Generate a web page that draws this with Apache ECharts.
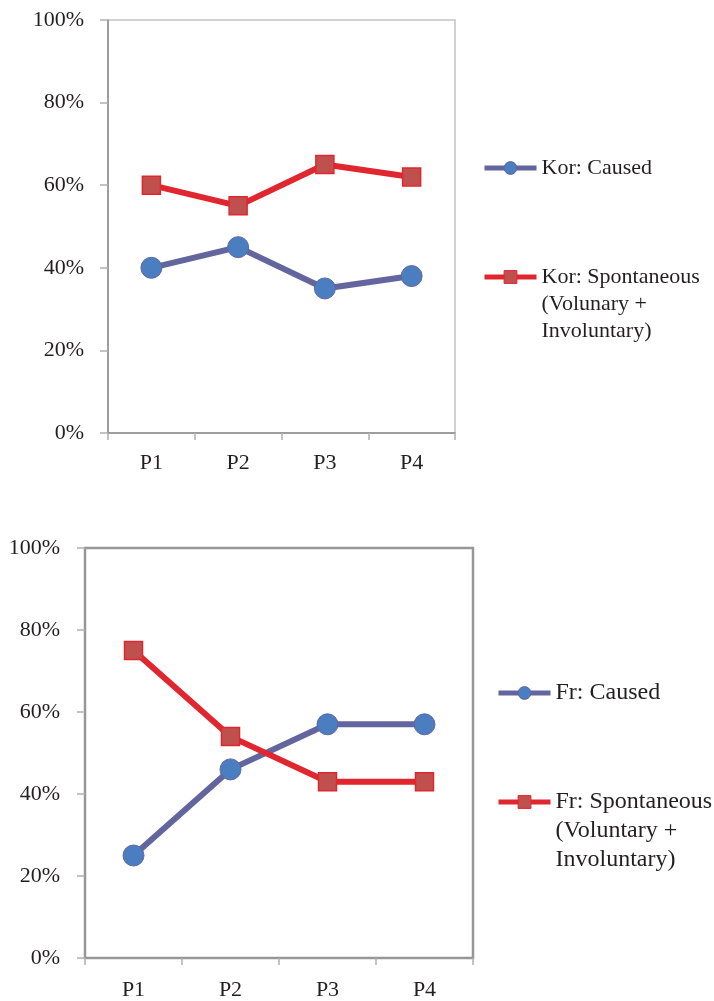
<!DOCTYPE html>
<html>
<head>
<meta charset="utf-8">
<script src="https://cdn.jsdelivr.net/npm/echarts@6/dist/echarts.min.js"></script>
<style>
  html, body { margin: 0; padding: 0; background: #fff; }
  #chart { width: 714px; height: 1001px; }
</style>
</head>
<body>
<div id="chart"></div>
<script>
// Periods on the x axis
const periods = ['P1', 'P2', 'P3', 'P4'];
// Y axis tick values (percent)
const yTicks = [0, 20, 40, 60, 80, 100];

// Korean speakers
const korCaused = [40, 45, 35, 38];
const korSpontaneous = [60, 55, 65, 62];

// French speakers
const frCaused = [25, 46, 57, 57];
const frSpontaneous = [75, 54, 43, 43];

// Series names (legend text)
const korNames = ['Kor: Caused', 'Kor: Spontaneous'];
const korSpontLines = ['(Volunary +', 'Involuntary)'];
const frNames = ['Fr: Caused', 'Fr: Spontaneous'];
const frSpontLines = ['(Voluntary +', 'Involuntary)'];

const FONT = 'Liberation Serif';
const TEXT = '#231f20';
const BLUE_LINE = '#63659f';
const BLUE_FILL = '#4a7ec0';
const RED_LINE = '#e0262e';
const RED_FILL = '#c0504d';

function causedSeries(name, data, idx) {
  return {
    name, type: 'line', data, xAxisIndex: idx, yAxisIndex: idx,
    symbol: 'circle', symbolSize: 21,
    lineStyle: { color: BLUE_LINE, width: 6 },
    itemStyle: { color: BLUE_FILL, borderColor: BLUE_LINE, borderWidth: 1 },
    emphasis: { disabled: true }, animation: false
  };
}
function spontSeries(name, data, idx) {
  return {
    name, type: 'line', data, xAxisIndex: idx, yAxisIndex: idx,
    symbol: 'rect', symbolSize: 18,
    lineStyle: { color: RED_LINE, width: 6 },
    itemStyle: { color: RED_FILL, borderColor: RED_LINE, borderWidth: 1.5 },
    emphasis: { disabled: true }, animation: false
  };
}

function xAxis(idx, axisColor, margin) {
  return {
    type: 'category', data: periods, gridIndex: idx, boundaryGap: true,
    axisLine: { lineStyle: { color: axisColor, width: 1.5 } },
    axisTick: { show: true, length: 7, lineStyle: { color: '#b0b0b0', width: 1.5 } },
    axisLabel: { color: TEXT, fontFamily: FONT, fontSize: 22, margin }
  };
}
function yAxis(idx, axisColor, margin) {
  return {
    type: 'value', gridIndex: idx, min: yTicks[0], max: yTicks[yTicks.length - 1],
    interval: yTicks[1] - yTicks[0],
    splitLine: { show: false },
    axisLine: { show: true, lineStyle: { color: axisColor, width: 1.5 } },
    axisTick: { show: true, length: 8, lineStyle: { color: '#b0b0b0', width: 1.5 } },
    axisLabel: { color: TEXT, fontFamily: FONT, fontSize: 22, margin, formatter: '{value}%' }
  };
}

// One legend entry; continuation lines hang below the first line, which stays
// level with the icon (blank lines on top keep the block centred on line one).
function legendItem(name, color, fill, border, left, centerY, fontSize, lineH, extraLines) {
  const n = extraLines.length;
  const lines = new Array(n).fill('').concat([name], extraLines);
  const totalH = lines.length * lineH;
  return {
    data: [{ name }],
    left, top: centerY - totalH / 2,
    padding: 0,
    itemWidth: 52, itemHeight: 16,
    lineStyle: { color, width: 5 },
    itemStyle: { color: fill, borderColor: border, borderWidth: 1 },
    selectedMode: false,
    formatter: () => lines.join('\n'),
    textStyle: { color: TEXT, fontFamily: FONT, fontSize, lineHeight: lineH }
  };
}

const chart = echarts.init(document.getElementById('chart'), null, { renderer: 'canvas' });
chart.setOption({
  animation: false,
  backgroundColor: '#ffffff',
  grid: [
    { left: 108, right: 259, top: 20, bottom: 568, show: true, borderColor: '#c4c4c4', borderWidth: 1.5, containLabel: false },
    { left: 85, right: 241, top: 548, bottom: 42, show: true, borderColor: '#979797', borderWidth: 2.5, containLabel: false }
  ],
  xAxis: [xAxis(0, '#8c8c8c', 19), xAxis(1, '#979797', 21)],
  yAxis: [yAxis(0, '#8c8c8c', 24), yAxis(1, '#979797', 25)],
  legend: [
    legendItem(korNames[0], BLUE_LINE, BLUE_FILL, BLUE_LINE, 482, 168, 22, 27, []),
    legendItem(korNames[1], RED_LINE, RED_FILL, RED_LINE, 482, 277, 22, 27, korSpontLines),
    legendItem(frNames[0], BLUE_LINE, BLUE_FILL, BLUE_LINE, 496, 693, 24, 29, []),
    legendItem(frNames[1], RED_LINE, RED_FILL, RED_LINE, 496, 802, 24, 29, frSpontLines)
  ],
  series: [
    causedSeries(korNames[0], korCaused, 0),
    spontSeries(korNames[1], korSpontaneous, 0),
    causedSeries(frNames[0], frCaused, 1),
    spontSeries(frNames[1], frSpontaneous, 1)
  ]
});
</script>
</body>
</html>
